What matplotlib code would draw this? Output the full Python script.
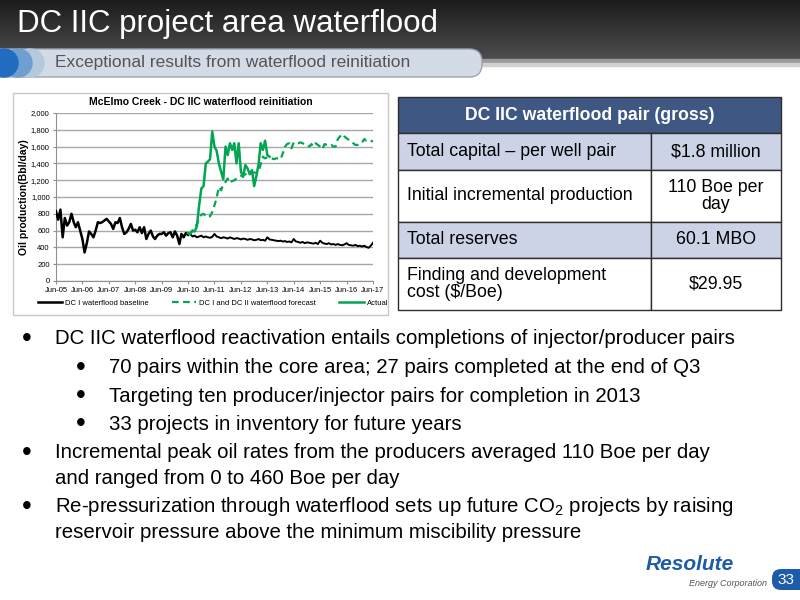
import numpy as np
import pandas as pd
import matplotlib
matplotlib.use('Agg')
import matplotlib.pyplot as plt
import matplotlib.dates as mdates
from matplotlib.colors import LinearSegmentedColormap
from matplotlib.lines import Line2D
from matplotlib.patches import Rectangle, FancyBboxPatch, Circle
from matplotlib.ticker import FuncFormatter, MultipleLocator

plt.rcParams['font.family'] = ['Liberation Sans', 'DejaVu Sans']
plt.rcParams['mathtext.fontset'] = 'custom'
plt.rcParams['mathtext.rm'] = 'Liberation Sans'

# %%
# monthly oil production (Bbl/day), Jun-05 .. Jun-17
baseline = [830, 730, 850, 520, 750, 660, 700, 800, 700, 640,
            700, 600, 500, 340, 450, 590, 560, 520, 600, 700,
            690, 700, 720, 740, 710, 680, 620, 700, 690, 750,
            640, 560, 580, 620, 680, 600, 610, 580, 640, 570,
            640, 500, 560, 600, 530, 500, 540, 560, 560, 580,
            540, 570, 580, 520, 590, 540, 440, 560, 520, 570,
            # Jun-10 onwards
            550, 560, 530, 540, 520, 530, 540, 520, 530, 520,
            515, 525, 560, 530, 520, 510, 520, 515, 505, 520,
            510, 500, 510, 505, 495, 505, 500, 490, 500, 495,
            485, 490, 500, 485, 490, 480, 520, 495, 490, 485,
            480, 475, 480, 470, 475, 465, 470, 460, 500, 470,
            465, 455, 465, 450, 460, 455, 450, 445, 455, 440,
            480, 455, 445, 440, 450, 435, 440, 430, 440, 430,
            425, 435, 450, 430, 425, 420, 430, 415, 420, 410,
            420, 405, 395, 420, 455]

# DC I and DC II waterflood forecast, Jun-10 .. Jun-17
forecast = [560, 570, 600, 630, 680, 740, 790, 800, 770, 760,
            770, 820, 900, 990, 1120, 1080, 1150, 1180, 1220, 1170,
            1190, 1200, 1220, 1240, 1250, 1260, 1270, 1275, 1280, 1290,
            1290, 1290, 1300, 1390, 1480, 1460, 1470, 1460, 1460, 1450,
            1460, 1460, 1450, 1520, 1600, 1630, 1640, 1580, 1650, 1640,
            1640, 1650, 1640, 1630, 1620, 1600, 1630, 1600, 1640, 1620,
            1600, 1570, 1630, 1620, 1610, 1620, 1600, 1600, 1690, 1720,
            1750, 1720, 1700, 1680, 1660, 1640, 1620, 1620, 1640, 1650,
            1690, 1670, 1680, 1670, 1660]

# actual, Jun-10 .. Jul-13
actual = [570, 560, 600, 590, 650, 900, 1100, 1130, 1400, 1420,
          1450, 1780, 1600, 1550, 1400, 1300, 1210, 1600, 1500, 1640,
          1560, 1640, 1400, 1640, 1300, 1240, 1380, 1340, 1270, 1320,
          1130, 1250, 1400, 1640, 1560, 1670, 1500, 1480]

months = pd.date_range('2005-06-01', periods=len(baseline), freq='MS')
start_wf = 60  # Jun-10

table_rows = [
    ('Total capital \u2013 per well pair', '\\$1.8 million'),
    ('Initial incremental production', '110 Boe per\nday'),
    ('Total reserves', '60.1 MBO'),
    ('Finding and development\ncost (\\$/Boe)', '\\$29.95'),
]

bullets = [
    (0, 'DC IIC waterflood reactivation entails completions of injector/producer pairs'),
    (1, '70 pairs within the core area; 27 pairs completed at the end of Q3'),
    (1, 'Targeting ten producer/injector pairs for completion in 2013'),
    (1, '33 projects in inventory for future years'),
    (0, 'Incremental peak oil rates from the producers averaged 110 Boe per day\nand ranged from 0 to 460 Boe per day'),
    (0, 'Re-pressurization through waterflood sets up future CO$_2$ projects by raising\nreservoir pressure above the minimum miscibility pressure'),
]

# %%
fig = plt.figure(figsize=(8, 6), dpi=100)
fig.patch.set_facecolor('white')

# background axes in pixel coordinates
ax0 = fig.add_axes([0, 0, 1, 1])
ax0.set_xlim(0, 800)
ax0.set_ylim(600, 0)
ax0.axis('off')

# header band
grad = np.linspace(0, 1, 60).reshape(-1, 1)
cmap_h = LinearSegmentedColormap.from_list('hdr', ['#1c1c1c', '#4e4e4e'])
ax0.imshow(grad, cmap=cmap_h, aspect='auto', extent=[0, 800, 60, 0], zorder=0)
ax0.add_patch(Rectangle((300, 59), 500, 4, color='#9a9a9a', zorder=1))
ax0.add_patch(Rectangle((300, 63), 500, 3, color='#d0d0d0', zorder=1))
ax0.text(17, 24, 'DC IIC project area waterflood', color='white', fontsize=22.5,
         va='center', ha='left', zorder=5)

# subtitle pill
ax0.add_patch(FancyBboxPatch((-40, 49), 522, 28, boxstyle='round,pad=0,rounding_size=13',
                             fc='#d3dbe6', ec='#9ca6b4', lw=1, zorder=2))
ax0.add_patch(Circle((30, 63), 14, color='#b4c8de', zorder=3))
ax0.add_patch(Circle((18, 63), 14, color='#6e9fd0', zorder=3))
ax0.add_patch(Circle((4, 63), 14, color='#1f6cc0', zorder=3))
ax0.text(55, 63, 'Exceptional results from waterflood reinitiation', color='#555555',
         fontsize=12.5, va='center', ha='left', zorder=5)

# chart frame
ax0.add_patch(Rectangle((13, 93), 375, 222, fc='white', ec='#c8c8c8', lw=1, zorder=1))
ax0.text(201, 102, 'McElmo Creek - DC IIC waterflood reinitiation', fontsize=7.5,
         fontweight='bold', ha='center', va='center', zorder=5)
ax0.text(24, 197, 'Oil production(Bbl/day)', fontsize=7.5, fontweight='bold',
         rotation=90, ha='center', va='center', zorder=5)

# %%
# production chart
ax = fig.add_axes([56 / 800, 1 - 281 / 600, (373 - 56) / 800, (281 - 113) / 600])
green = '#00a651'
ax.plot(months[:start_wf + 1], baseline[:start_wf + 1], color='black', lw=1.8, zorder=3)
ax.plot(months[start_wf:], baseline[start_wf:], color='black', lw=1.4, zorder=3)
ax.plot(months[start_wf:start_wf + len(forecast)], forecast, color=green, lw=1.6,
        ls=(0, (3, 2)), zorder=4)
ax.plot(months[start_wf:start_wf + len(actual)], actual, color=green, lw=1.8, zorder=5)

ax.set_ylim(0, 2000)
ax.set_xlim(months[0], months[-1])
ax.yaxis.set_major_locator(MultipleLocator(200))
ax.yaxis.set_major_formatter(FuncFormatter(lambda v, p: f'{int(v):,}'))
ax.xaxis.set_major_locator(mdates.MonthLocator(bymonth=6))
ax.xaxis.set_major_formatter(mdates.DateFormatter('%b-%y'))
ax.grid(axis='y', color='#a8a8a8', lw=1)
ax.set_axisbelow(True)
for s in ['top', 'right']:
    ax.spines[s].set_visible(False)
for s in ['left', 'bottom']:
    ax.spines[s].set_color('#909090')
ax.tick_params(labelsize=5.5, length=2.5, color='#909090', pad=2)

handles = [Line2D([], [], color='black', lw=1.8),
           Line2D([], [], color=green, lw=1.6, ls=(0, (3, 2))),
           Line2D([], [], color=green, lw=1.8)]
labels = ['DC I waterflood baseline', 'DC I and DC II waterflood forecast', 'Actual']
fig.legend(handles, labels, loc='center', bbox_to_anchor=(213 / 800, 1 - 303 / 600),
           ncol=3, fontsize=5.5, frameon=False, handlelength=3.2, columnspacing=3.0,
           handletextpad=0.4)

# %%
# table
tx0, tx1, tsplit = 398, 781, 651
ax0.add_patch(Rectangle((tx0, 97), tx1 - tx0, 36, fc='#3f5883', ec='#2e2e2e', lw=1, zorder=2))
ax0.text((tx0 + tx1) / 2, 115, 'DC IIC waterflood pair (gross)', color='white', fontsize=12.7,
         fontweight='bold', ha='center', va='center', zorder=5)
row_y = [(133, 170), (170, 222), (222, 258), (258, 310)]
for i, ((left, right), (y0, y1)) in enumerate(zip(table_rows, row_y)):
    fc = '#cdd3e7' if i % 2 == 0 else 'white'
    ax0.add_patch(Rectangle((tx0, y0), tsplit - tx0, y1 - y0, fc=fc, ec='#2e2e2e', lw=1, zorder=2))
    ax0.add_patch(Rectangle((tsplit, y0), tx1 - tsplit, y1 - y0, fc=fc, ec='#2e2e2e', lw=1, zorder=2))
    ym = (y0 + y1) / 2
    ax0.text(tx0 + 9, ym, left, fontsize=12.8, ha='left', va='center', zorder=5,
             linespacing=1.05)
    ax0.text((tsplit + tx1) / 2, ym, right, fontsize=12.8, ha='center', va='center', zorder=5,
             linespacing=1.05)

# %%
# bullets
y = 339
for level, txt in bullets:
    bx = 22 if level == 0 else 76
    ax0.text(bx, y, '\u2022', fontsize=20, ha='left', va='center', zorder=5)
    for k, line in enumerate(txt.split('\n')):
        ax0.text(bx + 33, y + k * 25.5, line, fontsize=14.7, ha='left', va='center', zorder=5)
    y += 28.5 + 25.5 * txt.count('\n')

# %%
# footer
ax0.text(690, 565, 'Resolute', fontsize=15, fontweight='bold', style='italic',
         color='#1e5ba8', ha='center', va='center', zorder=5)
ax0.text(767, 584, 'Energy Corporation', fontsize=6.5, style='italic',
         color='#555555', ha='right', va='center', zorder=5)
ax0.add_patch(FancyBboxPatch((772, 569), 40, 21, boxstyle='round,pad=0,rounding_size=9',
                             fc='#1e5ba8', ec='none', zorder=3))
ax0.text(786, 580, '33', fontsize=11, color='white', ha='center', va='center', zorder=5)

plt.savefig('out.png', dpi=100)
